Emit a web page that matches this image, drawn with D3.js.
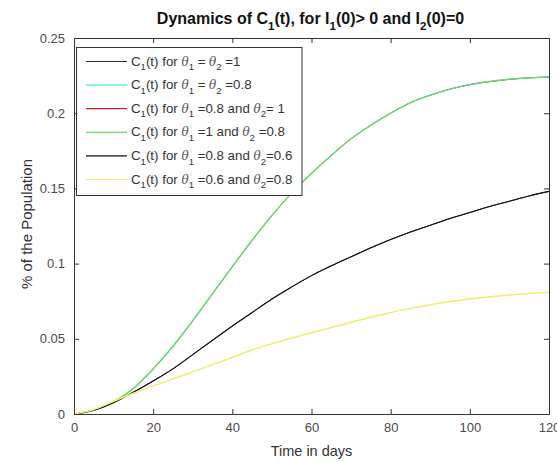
<!DOCTYPE html>
<html>
<head>
<meta charset="utf-8">
<script src="https://cdn.jsdelivr.net/npm/d3@7/dist/d3.min.js"></script>
<style>
  html, body { margin: 0; padding: 0; background: #fff; }
  svg { display: block; font-family: "Liberation Sans", Arial, Helvetica, sans-serif; }
</style>
</head>
<body>
<svg id="chart" width="557" height="462"></svg>
<script>
// Time grid (days)
const days = [0, 5, 10, 15, 20, 25, 30, 35, 40, 45, 50, 55, 60, 65, 70, 75, 80, 85, 90, 95, 100, 105, 110, 115, 120];

// C1(t) for theta1 = 1 (same curve for theta2 = 1 and theta2 = 0.8)
const cTheta1_1 = [0, 0.0025, 0.008, 0.017, 0.030, 0.045, 0.062, 0.080, 0.098, 0.1155, 0.132, 0.147, 0.160, 0.172, 0.183, 0.192, 0.200, 0.207, 0.212, 0.216, 0.219, 0.221, 0.2225, 0.2235, 0.224];
// C1(t) for theta1 = 0.8 (same curve for theta2 = 0.8, 1, 0.6)
const cTheta1_08 = [0, 0.0025, 0.0075, 0.0145, 0.022, 0.030, 0.0395, 0.049, 0.0585, 0.0675, 0.0765, 0.0845, 0.092, 0.0985, 0.1045, 0.1105, 0.116, 0.121, 0.1255, 0.130, 0.134, 0.138, 0.1415, 0.145, 0.148];
// C1(t) for theta1 = 0.6
const cTheta1_06 = [0, 0.003, 0.0085, 0.0138, 0.0187, 0.0234, 0.028, 0.0328, 0.0377, 0.0425, 0.0468, 0.0505, 0.054, 0.0575, 0.061, 0.0643, 0.0675, 0.0702, 0.0727, 0.0748, 0.0765, 0.078, 0.0792, 0.0802, 0.081];

const seriesLabels = [
  "C_1(t) for θ_1 = θ_2 =1",
  "C_1(t) for θ_1 = θ_2 =0.8",
  "C_1(t) for θ_1 =0.8 and θ_2= 1",
  "C_1(t) for θ_1 =1 and θ_2 =0.8",
  "C_1(t) for θ_1 =0.8 and θ_2=0.6",
  "C_1(t) for θ_1 =0.6 and θ_2=0.8"
];
const seriesValues = [cTheta1_1, cTheta1_08, cTheta1_08, cTheta1_1, cTheta1_08, cTheta1_06];
const seriesColors = ["#1c1c8e", "#3fe8e8", "#cc2020", "#72d872", "#111111", "#eeee72"];
const seriesWidths = [1, 1, 1, 1.5, 1.1, 1.5];

const xTicks = [0, 20, 40, 60, 80, 100, 120];
const yTicks = [0, 0.05, 0.1, 0.15, 0.2, 0.25];
const yTickLabels = ["0", "0.05", "0.1", "0.15", "0.2", "0.25"];

const titleText = "Dynamics of C_1(t), for I_1(0)> 0 and I_2(0)=0";
const xLabel = "Time in days";
const yLabel = "% of the Population";

const svg = d3.select("#chart");
const plot = { left: 74, right: 549, top: 38, bottom: 414 };

const x = d3.scaleLinear().domain([0, 120]).range([plot.left, plot.right]);
const y = d3.scaleLinear().domain([0, 0.25]).range([plot.bottom, plot.top]);

// Writes a TeX-like string (x_1 subscripts, italic theta) into a text element
function richText(sel, str, size) {
  const parts = [];
  let buf = "";
  for (let i = 0; i < str.length; i++) {
    const ch = str[i];
    if (ch === "_" && i + 1 < str.length) {
      if (buf) { parts.push({ t: buf }); buf = ""; }
      parts.push({ t: str[i + 1], sub: true });
      i++;
    } else if (ch === "θ") {
      if (buf) { parts.push({ t: buf }); buf = ""; }
      parts.push({ t: "θ", it: true });
    } else {
      buf += ch;
    }
  }
  if (buf) parts.push({ t: buf });
  const shift = size * 0.36;
  let lowered = false;
  parts.forEach(p => {
    const ts = sel.append("tspan").text(p.t.replace(/ /g, "\u00a0"));
    if (p.sub) {
      ts.attr("font-size", size * 0.72).attr("dy", lowered ? 0 : shift);
      lowered = true;
    } else {
      if (lowered) { ts.attr("dy", -shift); lowered = false; }
      if (p.it) ts.attr("font-style", "italic").attr("fill", "#555").attr("font-family", "'DejaVu Serif', serif").attr("font-size", size * 0.9);
    }
  });
}

// Plot background and curves
const g = svg.append("g");
g.append("rect").attr("x", plot.left).attr("y", plot.top)
  .attr("width", plot.right - plot.left).attr("height", plot.bottom - plot.top)
  .attr("fill", "#fff");

svg.append("clipPath").attr("id", "plotclip")
  .append("rect").attr("x", plot.left).attr("y", plot.top - 2)
  .attr("width", plot.right - plot.left).attr("height", plot.bottom - plot.top + 2);

const line = d3.line()
  .x((d, i) => x(days[i]))
  .y(d => y(d))
  .curve(d3.curveMonotoneX);

g.append("g").attr("clip-path", "url(#plotclip)")
  .selectAll("path").data(seriesValues).join("path")
  .attr("d", d => line(d))
  .attr("fill", "none")
  .attr("stroke", (d, i) => seriesColors[i])
  .attr("stroke-width", (d, i) => seriesWidths[i]);

// Axes box with inward ticks on all sides
const axisColor = "#333";
const tickLen = 5;
const xb = d3.axisBottom(x).tickValues(xTicks).tickSizeInner(-tickLen).tickSizeOuter(0).tickPadding(9).tickFormat(d3.format("d"));
const xt = d3.axisTop(x).tickValues(xTicks).tickSizeInner(-tickLen).tickSizeOuter(0).tickFormat("");
const yl = d3.axisLeft(y).tickValues(yTicks).tickSizeInner(-tickLen).tickSizeOuter(0).tickPadding(9).tickFormat((d, i) => yTickLabels[i]);
const yr = d3.axisRight(y).tickValues(yTicks).tickSizeInner(-tickLen).tickSizeOuter(0).tickFormat("");

function styleAxis(a) {
  a.selectAll("path.domain").attr("stroke", axisColor).attr("stroke-width", 1);
  a.selectAll(".tick line").attr("stroke", axisColor).attr("stroke-width", 1);
  a.selectAll("text").attr("fill", "#4a4a4a").attr("font-size", 13).attr("font-family", "'Liberation Sans', Arial, sans-serif");
}
styleAxis(svg.append("g").attr("transform", `translate(0,${plot.bottom})`).call(xb));
styleAxis(svg.append("g").attr("transform", `translate(0,${plot.top})`).call(xt));
styleAxis(svg.append("g").attr("transform", `translate(${plot.left},0)`).call(yl));
styleAxis(svg.append("g").attr("transform", `translate(${plot.right},0)`).call(yr));

// Title
const title = svg.append("text").attr("x", (plot.left + plot.right) / 2 - 1).attr("y", 24)
  .attr("text-anchor", "middle").attr("font-size", 16).attr("font-weight", "bold").attr("fill", "#111");
richText(title, titleText, 16);

// Axis labels
svg.append("text").attr("x", (plot.left + plot.right) / 2).attr("y", 456)
  .attr("text-anchor", "middle").attr("font-size", 14.5).attr("fill", "#333").text(xLabel);
svg.append("text").attr("transform", `translate(32,${(plot.top + plot.bottom) / 2 - 2}) rotate(-90)`)
  .attr("text-anchor", "middle").attr("font-size", 15).attr("fill", "#333").text(yLabel);

// Legend
const legend = svg.append("g");
legend.append("rect").attr("x", 76.5).attr("y", 47.5).attr("width", 225.5).attr("height", 148)
  .attr("fill", "#fff").attr("stroke", axisColor).attr("stroke-width", 1);
const rowY = i => 61.5 + i * 23.6;
seriesLabels.forEach((lab, i) => {
  legend.append("line").attr("x1", 86).attr("x2", 127).attr("y1", rowY(i)).attr("y2", rowY(i))
    .attr("stroke", seriesColors[i]).attr("stroke-width", 1.2);
  const t = legend.append("text").attr("x", 131).attr("y", rowY(i) + 4)
    .attr("font-size", 13.3).attr("fill", "#333");
  richText(t, lab, 13.3);
});
</script>
</body>
</html>
